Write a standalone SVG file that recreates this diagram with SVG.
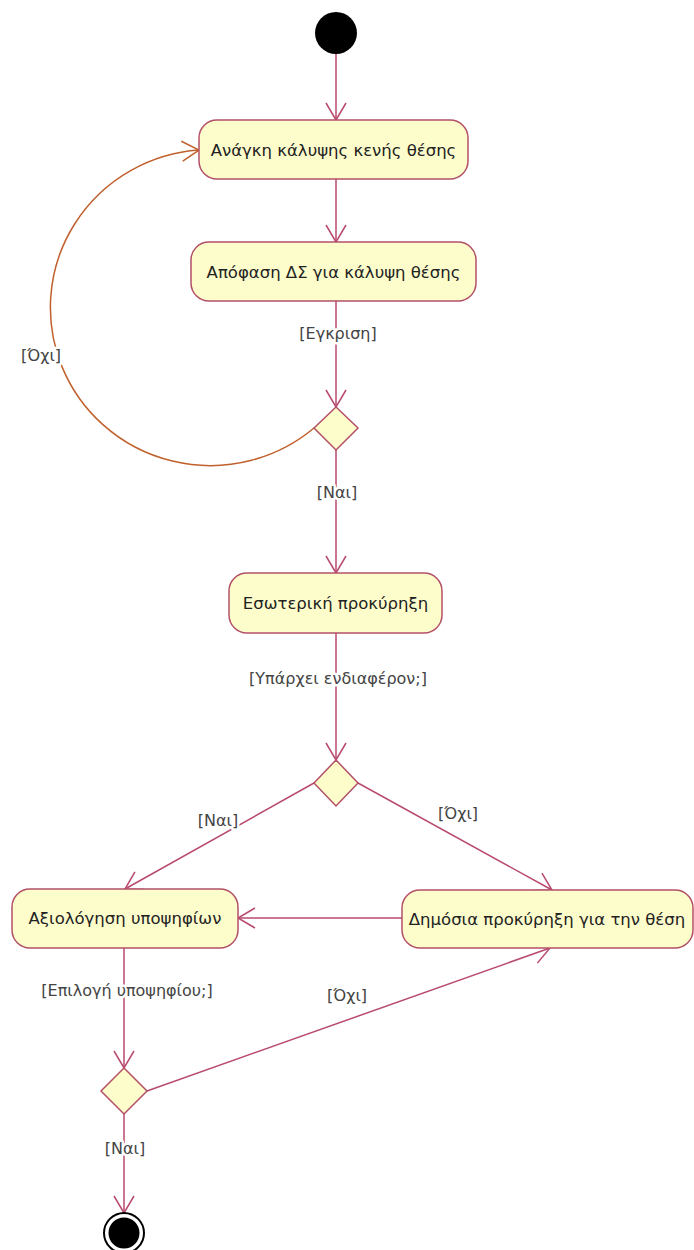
<svg xmlns="http://www.w3.org/2000/svg" width="694" height="1250" viewBox="0 0 694 1250">
<style>
  .node rect { fill: #fdfccb; stroke: #b35068; stroke-width: 1.5; }
  .node polygon { fill: #fdfccb; stroke: #b35068; stroke-width: 1.5; }
  .ntext { font-family: "DejaVu Sans", "Liberation Sans", sans-serif; font-size: 16.5px; fill: #222; text-anchor: middle; dominant-baseline: central; }
  .lbl { font-family: "DejaVu Sans", "Liberation Sans", sans-serif; font-size: 16px; fill: #444; text-anchor: middle; dominant-baseline: central; stroke: #fff; stroke-width: 5px; paint-order: stroke; stroke-linejoin: round; }
  .edge { fill: none; stroke: #b84a6e; stroke-width: 1.5; marker-end: url(#arr); }
  .loop { fill: none; stroke: #c0602c; stroke-width: 1.5; marker-end: url(#arrO); }
</style>
<defs>
  <marker id="arr" markerUnits="userSpaceOnUse" markerWidth="22" markerHeight="24" refX="18" refY="11" orient="auto">
    <path d="M1,1 L18,11 L1,21" fill="none" stroke="#b84a6e" stroke-width="1.5"/>
  </marker>
  <marker id="arrO" markerUnits="userSpaceOnUse" markerWidth="22" markerHeight="24" refX="18" refY="11" orient="auto">
    <path d="M1,1 L18,11 L1,21" fill="none" stroke="#c0602c" stroke-width="1.5"/>
  </marker>
</defs>
<rect width="694" height="1250" fill="#ffffff"/>
<g id="connectors">
  <line class="edge" x1="336" y1="54" x2="336" y2="120"/>
  <line class="edge" x1="336" y1="179" x2="336" y2="242"/>
  <line class="edge" x1="336" y1="301" x2="336" y2="407"/>
  <path class="loop" d="M 314 428 A 160 158 0 1 1 199 150"/>
  <line class="edge" x1="336" y1="450" x2="336" y2="573"/>
  <line class="edge" x1="336" y1="633" x2="336" y2="760"/>
  <line class="edge" x1="314" y1="783" x2="125" y2="889"/>
  <line class="edge" x1="358" y1="783" x2="552" y2="890"/>
  <line class="edge" x1="402" y1="918" x2="238" y2="918"/>
  <line class="edge" x1="124" y1="948" x2="124" y2="1068"/>
  <line class="edge" x1="147" y1="1091" x2="550" y2="948"/>
  <line class="edge" x1="124" y1="1114" x2="124" y2="1213"/>
  <text class="lbl" x="338" y="333">[Εγκριση]</text>
  <text class="lbl" x="41" y="355">[Όχι]</text>
  <text class="lbl" x="337" y="492">[Ναι]</text>
  <text class="lbl" x="338" y="678">[Υπάρχει ενδιαφέρον;]</text>
  <text class="lbl" x="218" y="820">[Ναι]</text>
  <text class="lbl" x="458" y="813">[Όχι]</text>
  <text class="lbl" x="127" y="990">[Επιλογή υποψηφίου;]</text>
  <text class="lbl" x="347" y="995">[Όχι]</text>
  <text class="lbl" x="125" y="1148">[Ναι]</text>
</g>
<g id="start">
  <circle cx="336" cy="33" r="21" fill="#000"/>
</g>
<g id="n1" class="node">
  <rect x="199" y="120" width="269" height="59" rx="18"/>
  <text class="ntext" x="333.5" y="150">Ανάγκη κάλυψης κενής θέσης</text>
</g>
<g id="n2" class="node">
  <rect x="191" y="242" width="285" height="59" rx="18"/>
  <text class="ntext" x="333.5" y="272">Απόφαση ΔΣ για κάλυψη θέσης</text>
</g>
<g id="d1" class="node">
  <polygon points="336,407 358,428 336,450 314,428"/>
</g>
<g id="n3" class="node">
  <rect x="229" y="573" width="213" height="60" rx="18"/>
  <text class="ntext" x="335.5" y="603">Εσωτερική προκύρηξη</text>
</g>
<g id="d2" class="node">
  <polygon points="336,760 358,783 336,806 314,783"/>
</g>
<g id="n4" class="node">
  <rect x="12" y="889" width="226" height="59" rx="18"/>
  <text class="ntext" x="125" y="918">Αξιολόγηση υποψηφίων</text>
</g>
<g id="n5" class="node">
  <rect x="402" y="890" width="291" height="58" rx="18"/>
  <text class="ntext" x="547" y="919">Δημόσια προκύρηξη για την θέση</text>
</g>
<g id="d3" class="node">
  <polygon points="124,1068 147,1091 124,1114 101,1091"/>
</g>
<g id="end">
  <circle cx="124" cy="1233" r="20" fill="#fff" stroke="#000" stroke-width="2"/>
  <circle cx="124" cy="1233" r="15.5" fill="#000"/>
</g>
</svg>
